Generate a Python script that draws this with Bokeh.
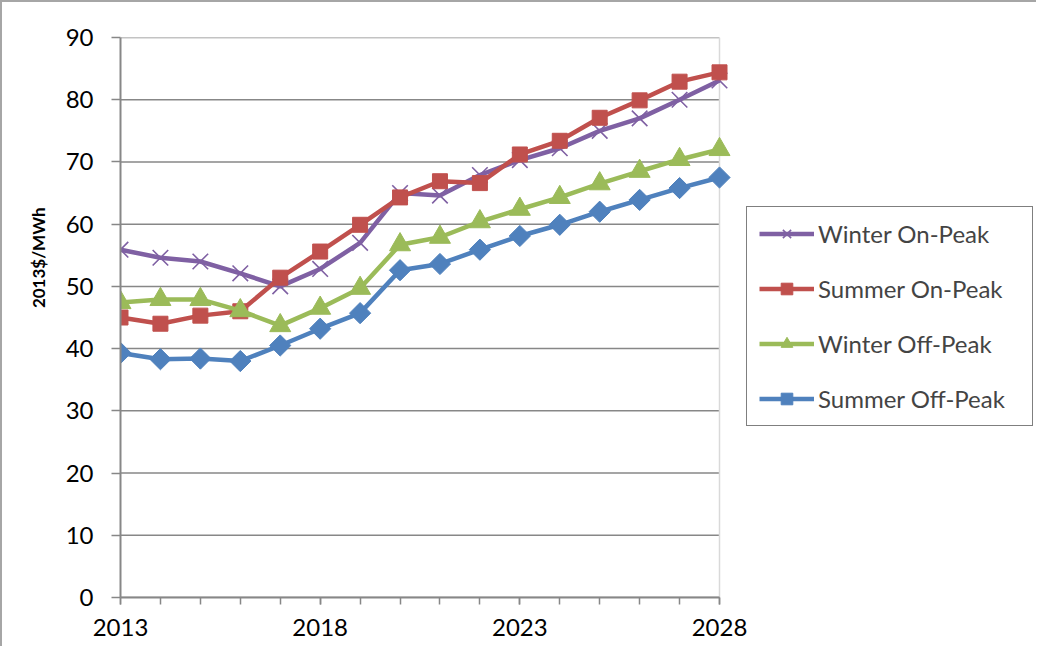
import math
from bokeh.plotting import figure
from bokeh.models import FixedTicker, Legend, LegendItem, Title, Range1d, Span
from bokeh.embed import file_html
from bokeh.resources import INLINE

years = list(range(2013, 2029))
winter_on = [55.9, 54.6, 54.0, 52.1, 50.0, 52.8, 57.0, 65.0, 64.6, 67.9, 70.3, 72.2, 75.0, 77.0, 80.0, 83.1]
summer_on = [45.0, 44.0, 45.3, 46.0, 51.4, 55.6, 59.9, 64.3, 66.9, 66.6, 71.2, 73.4, 77.1, 79.9, 82.9, 84.4]
winter_off = [47.4, 47.9, 47.9, 46.1, 43.7, 46.5, 49.7, 56.7, 57.9, 60.4, 62.4, 64.3, 66.5, 68.5, 70.4, 72.0]
summer_off = [39.3, 38.3, 38.4, 38.0, 40.5, 43.2, 45.7, 52.6, 53.6, 55.9, 58.1, 59.9, 62.0, 63.9, 65.8, 67.5]
x_labels = [2013, 2018, 2023, 2028]
y_ticks = list(range(0, 100, 10))

FONT = "Lato"
GRAY = "#878787"

# layout geometry (pixels)
W, H = 1036, 646
LEFT, TOP, BOTTOM = 118, 35, 51
PLOT_W = 599  # width of the data area
frame_w = W - LEFT
x0, x1 = years[0], years[-1]
x_end = x0 + (x1 - x0) * frame_w / PLOT_W

p = figure(width=W, height=H, output_backend="svg", toolbar_location=None,
           x_range=Range1d(x0, x_end), y_range=Range1d(0, 90),
           min_border_left=LEFT, min_border_right=0, min_border_top=TOP, min_border_bottom=BOTTOM)
p.styles = {"border-top": "2px solid #a6a6a6", "border-left": "2px solid #a6a6a6"}
p.background_fill_color = "white"
p.border_fill_color = "white"
p.outline_line_color = None
p.xgrid.grid_line_color = None
p.ygrid.grid_line_color = None

# horizontal gridlines limited to the data area
p.segment(x0=[x0] * len(y_ticks), x1=[x1] * len(y_ticks), y0=y_ticks, y1=y_ticks,
          line_color=GRAY, line_width=1.5, level="underlay")
p.add_layout(Span(location=x1, dimension="height", line_color="#d9d9d9", line_width=1.5, level="underlay"))

p.xaxis.ticker = FixedTicker(ticks=x_labels, minor_ticks=years)
p.xaxis.bounds = (x0, x1)
p.yaxis.ticker = FixedTicker(ticks=y_ticks)
for ax in (p.xaxis, p.yaxis):
    ax.axis_line_color = GRAY
    ax.axis_line_width = 2
    ax.major_tick_line_color = GRAY
    ax.major_tick_line_width = 1.5
    ax.major_tick_in = 0
    ax.major_label_text_font = FONT
    ax.major_label_text_font_size = "24px"
    ax.major_label_text_color = "black"
p.xaxis.minor_tick_line_color = GRAY
p.xaxis.minor_tick_line_width = 1.5
p.xaxis.minor_tick_in = 0
p.xaxis.minor_tick_out = 7
p.xaxis.major_tick_out = 7
p.xaxis.major_label_standoff = 14
p.yaxis.minor_tick_line_color = None
p.yaxis.major_tick_out = 9
p.yaxis.major_label_standoff = 18

series = [
    ("Winter On-Peak", winter_on, "#7f60a3", "x", 22, 0),
    ("Summer On-Peak", summer_on, "#c0504d", "square", 15, 0),
    ("Winter Off-Peak", winter_off, "#9bbb59", "triangle", 21, 0),
    ("Summer Off-Peak", summer_off, "#4f81bd", "square", 15, math.pi / 4),
]
items = []
for name, ys, col, mk, sz, ang in series:
    l = p.line(years, ys, line_color=col, line_width=4.5)
    if mk == "x":
        s = p.scatter(years, ys, marker="x", size=sz, line_color=col, line_width=1.6)
    else:
        s = p.scatter(years, ys, marker=mk, size=sz, angle=ang, fill_color=col, line_color=col)
    items.append(LegendItem(label=name, renderers=[l, s]))

legend = Legend(items=items, location=(626, 171), border_line_color="black", border_line_width=1.3,
                label_text_font=FONT, label_text_font_size="24px", glyph_width=55, glyph_height=29,
                spacing=26, padding=12, label_standoff=4, label_width=202, margin=0,
                background_fill_color="white")
p.add_layout(legend, "center")

ylab = Title(text="2013$/MWh", align="right", offset=170, standoff=28, text_font=FONT,
             text_font_size="17px", text_font_style="bold", text_color="black")
p.add_layout(ylab, "left")

open("out.html", "w").write(file_html(p, INLINE))
